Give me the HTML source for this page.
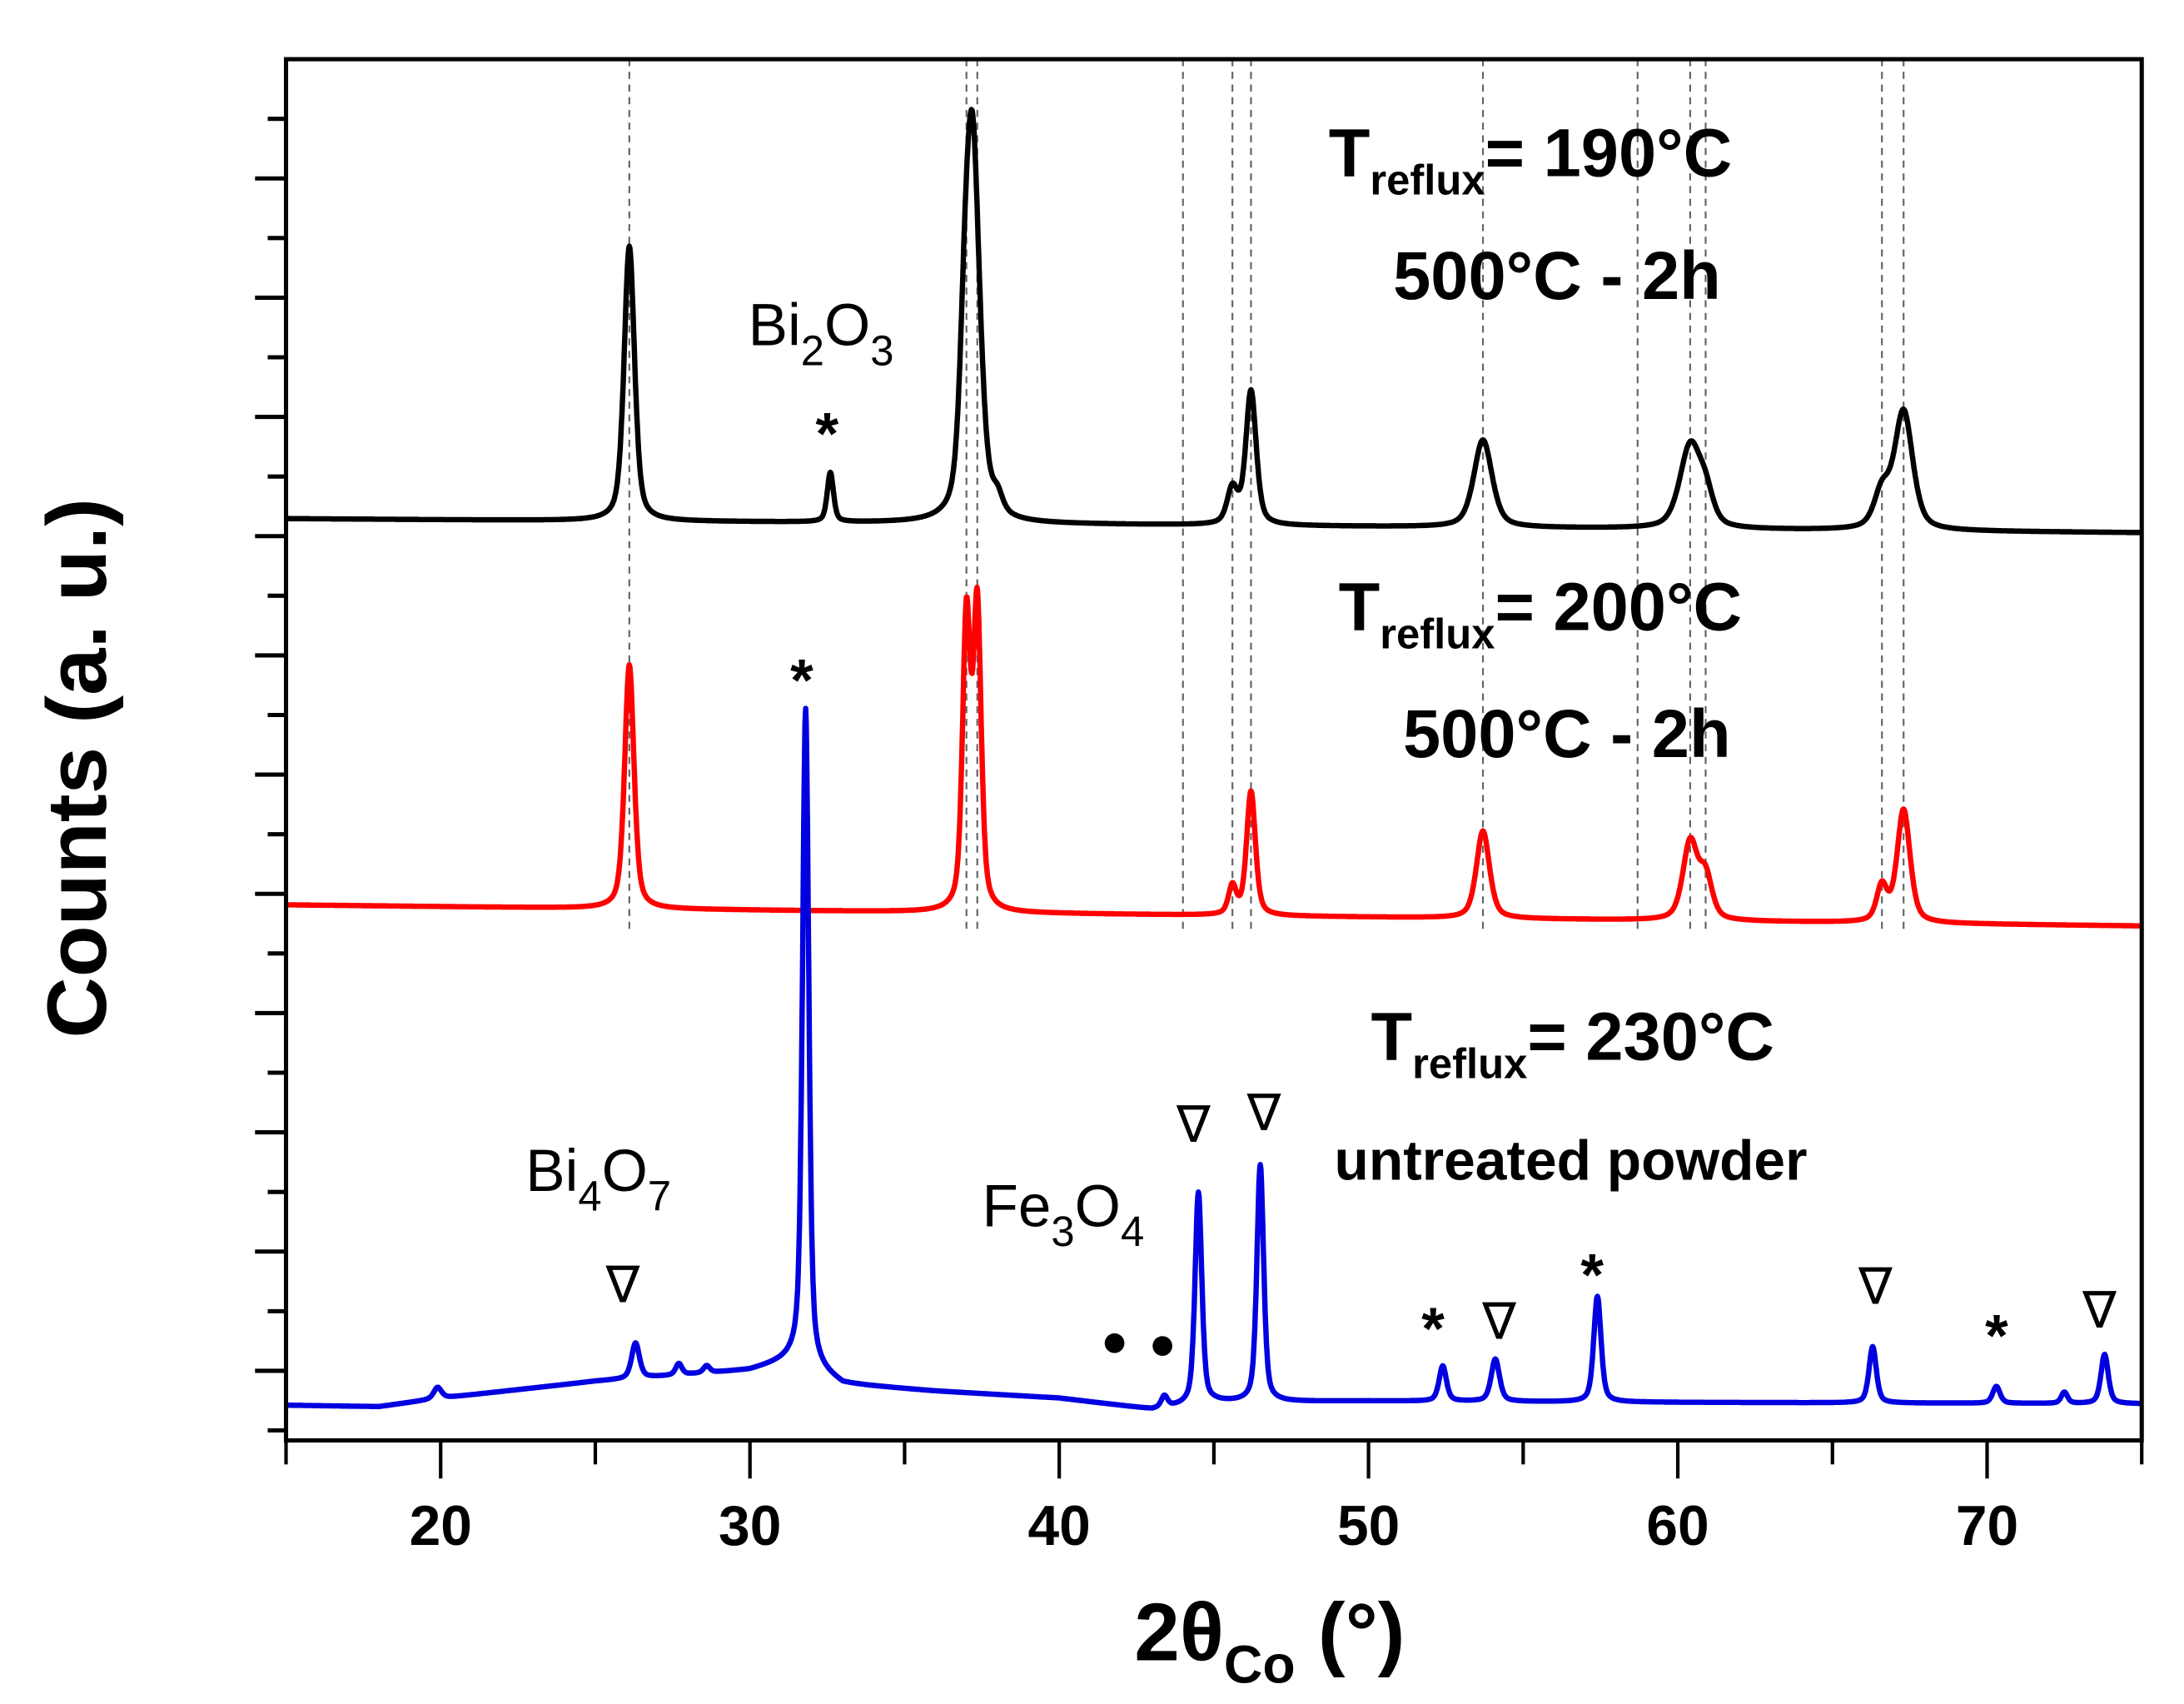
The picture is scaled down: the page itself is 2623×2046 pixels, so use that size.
<!DOCTYPE html>
<html><head><meta charset="utf-8"><style>
html,body{margin:0;padding:0;background:#fff;}
svg{display:block;font-family:"Liberation Sans",sans-serif;}
.b{font-weight:bold;}
</style></head><body>
<svg id="chart" width="2623" height="2046" viewBox="0 0 1550 1209" preserveAspectRatio="none" xmlns="http://www.w3.org/2000/svg">
<g id="guides"></g>
<g id="series"></g>
<g id="axes"></g>
<g fill="#000">
<text class="b" x="943" y="125" font-size="48">T<tspan font-size="30" dy="13">reflux</tspan><tspan dy="-13">= 190°C</tspan></text>
<text class="b" x="1105" y="212" font-size="48" text-anchor="middle">500°C - 2h</text>
<text class="b" x="950" y="447" font-size="48">T<tspan font-size="30" dy="13">reflux</tspan><tspan dy="-13">= 200°C</tspan></text>
<text class="b" x="1112" y="537" font-size="48" text-anchor="middle">500°C - 2h</text>
<text class="b" x="973" y="752" font-size="48">T<tspan font-size="30" dy="13">reflux</tspan><tspan dy="-13">= 230°C</tspan></text>
<text class="b" x="947" y="837" font-size="40">untreated powder</text>
<text x="531" y="245" font-size="42">Bi<tspan font-size="30" dy="14">2</tspan><tspan dy="-14">O</tspan><tspan font-size="30" dy="14">3</tspan></text>
<text x="373" y="845" font-size="42">Bi<tspan font-size="30" dy="14">4</tspan><tspan dy="-14">O</tspan><tspan font-size="30" dy="14">7</tspan></text>
<text x="697" y="870" font-size="42">Fe<tspan font-size="30" dy="14">3</tspan><tspan dy="-14">O</tspan><tspan font-size="30" dy="14">4</tspan></text>
<g font-size="42" class="b" text-anchor="middle">
<text x="587" y="322">*</text>
<text x="569" y="497">*</text>
<text x="1017" y="957">*</text>
<text x="1130" y="919">*</text>
<text x="1417" y="962">*</text>
</g>
<g font-size="36" text-anchor="middle">
<text x="442" y="924">∇</text>
<text x="847" y="810">∇</text>
<text x="897" y="802">∇</text>
<text x="1064" y="950">∇</text>
<text x="1331" y="925">∇</text>
<text x="1490" y="942">∇</text>
</g>
<circle cx="791" cy="953" r="7"/>
<circle cx="825" cy="955" r="7"/>
<text class="b" font-size="60" text-anchor="middle" transform="translate(75,545) rotate(-90)">Counts (a. u.)</text>
<text class="b" font-size="58" x="805" y="1178">2θ<tspan font-size="38" dy="16">Co</tspan><tspan dy="-16"> (°)</tspan></text>
</g>
</svg>
<script>
const xTicks=[20,30,40,50,60,70];
const guideX=[26.1,37.0,37.35,44.0,45.6,46.2,53.7,58.7,60.4,60.9,66.6,67.3];
const blackBase=[[15,654],[40,650],[75,644]];
const blackPos=[26.1,32.6,36.95,37.2,38.0,45.6,46.2,53.7,60.4,60.9,66.6,67.3];
const blackH=[195,35,70,265,12,25,95,62,58,20,25,84];
const blackW=[0.2,0.12,0.2,0.28,0.2,0.2,0.2,0.35,0.4,0.3,0.3,0.35];
const redBase=[[15,380],[75,365]];
const redPos=[26.1,37.0,37.35,45.6,46.2,53.7,60.4,60.9,66.6,67.3];
const redH=[173,205,212,20,88,62,55,30,25,80];
const redW=[0.18,0.15,0.15,0.15,0.17,0.25,0.28,0.25,0.2,0.25];
const blueBase=[[15,25],[18,24],[20,30],[25,42],[30,50],[31.5,58],[33,40],[36,35],[40,30],[43,22],[45,27],[50,28],[60,27],[75,26]];
const bluePos=[19.9,26.3,27.7,28.6,31.8,43.4,44.5,46.5,52.4,54.1,57.4,66.3,70.3,72.5,73.8];
const blueH=[8,25,8,5,465,8,150,168,25,30,75,40,12,8,35];
const blueW=[0.15,0.15,0.12,0.12,0.12,0.12,0.13,0.13,0.14,0.16,0.14,0.14,0.14,0.12,0.14];

const X0=203,X1=1520,Y0=42,Y1=1022;
const xS=v=>X0+(v-15)/(75-15)*(X1-X0);
const yS=v=>Y1-v;
const NS="http://www.w3.org/2000/svg";
function mk(t,a,p){const e=document.createElementNS(NS,t);for(const k in a)e.setAttribute(k,a[k]);p.appendChild(e);return e;}
function baseAt(b,x){for(let i=0;i<b.length-1;i++){if(x<=b[i+1][0]){const t=(x-b[i][0])/(b[i+1][0]-b[i][0]);return b[i][1]+t*(b[i+1][1]-b[i][1]);}}return b[b.length-1][1];}
function curve(b,P,H,W){let d="";for(let x=15;x<=75.0001;x+=0.02){let v=baseAt(b,x);for(let i=0;i<P.length;i++){const u=(x-P[i])/W[i];v+=H[i]*(0.5/(1+u*u)+0.5*Math.exp(-0.693*u*u));}d+=(d?"L":"M")+xS(x).toFixed(1)+","+yS(v).toFixed(1);}return d;}
const sg=document.getElementById('series');
const s1=mk('path',{d:curve(blackBase,blackPos,blackH,blackW),fill:'none',stroke:'#000','stroke-width':3.8,'stroke-linejoin':'round'},sg);


const s2=mk('path',{d:curve(redBase,redPos,redH,redW),fill:'none',stroke:'#ff0000','stroke-width':3.8,'stroke-linejoin':'round'},sg);


const s3=mk('path',{d:curve(blueBase,bluePos,blueH,blueW),fill:'none',stroke:'#0000e0','stroke-width':3.8,'stroke-linejoin':'round'},sg);


const gg=document.getElementById('guides');
guideX.forEach(g=>{const l=mk('line',{x1:xS(g),x2:xS(g),y1:Y0,y2:660,stroke:'#666','stroke-width':1.3,'stroke-dasharray':'5,4'},gg);

});
const ag=document.getElementById('axes');
const fr=mk('rect',{x:X0,y:Y0,width:X1-X0,height:Y1-Y0,fill:'none',stroke:'#000','stroke-width':3},ag);


for(let i=1;i<24;i++){const y=Y0+42.3*i;if(y>Y1-5)break;const maj=(i%2===0);
const t=mk('line',{x1:X0-(maj?22:13),x2:X0,y1:y,y2:y,stroke:'#000','stroke-width':3},ag);

}
for(let v=15;v<=75;v+=5){const maj=xTicks.includes(v);
const t=mk('line',{x1:xS(v),x2:xS(v),y1:Y1,y2:Y1+(maj?27:17),stroke:'#000','stroke-width':2.5},ag);

}
xTicks.forEach(v=>{const t=mk('text',{x:xS(v),y:1096,'text-anchor':'middle','font-size':40,'font-weight':'bold'},ag);t.textContent=v;

});
</script>
</body></html>
